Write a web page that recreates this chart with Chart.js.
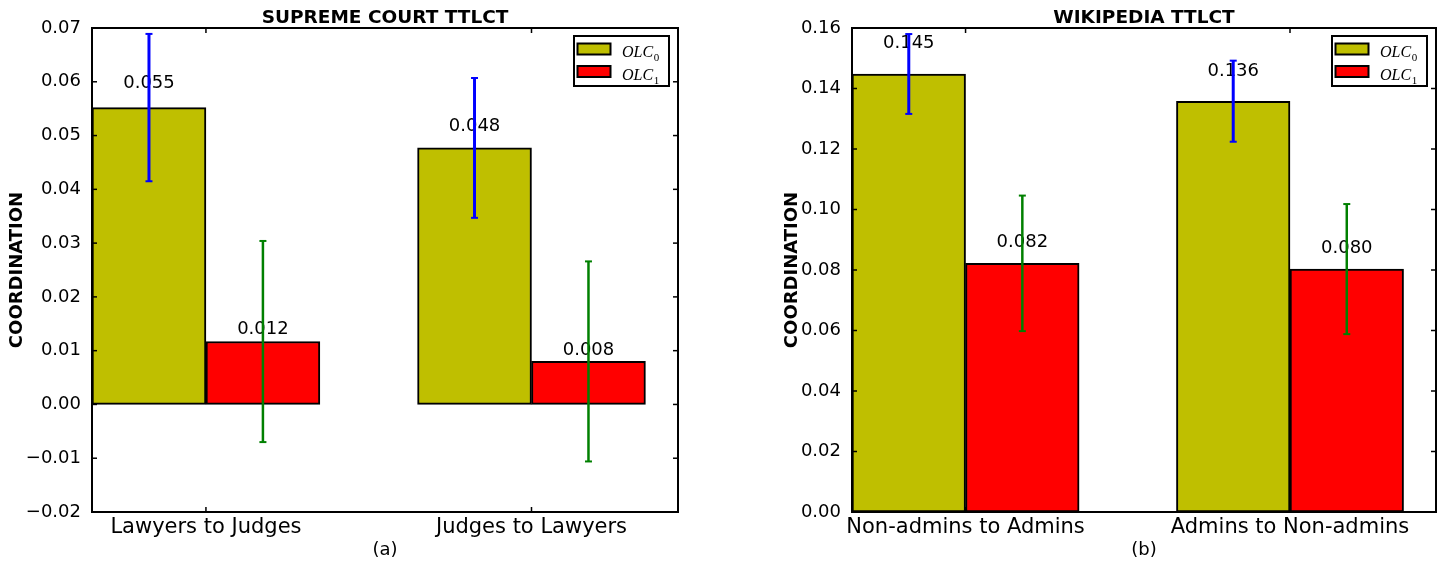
<!DOCTYPE html>
<html><head><meta charset="utf-8">
<script src="https://cdn.jsdelivr.net/npm/chart.js@4"></script>
<style>
html,body{margin:0;padding:0;background:#fff;}
body{width:1443px;height:563px;position:relative;overflow:hidden;}
.c{position:absolute;top:0;height:563px;}
</style></head><body>
<div class="c" style="left:0;width:720px"><canvas id="a"></canvas></div>
<div class="c" style="left:722px;width:721px"><canvas id="b"></canvas></div>
<script>
// ---- data ----
const seriesNames = ['OLC_0', 'OLC_1'];

const courtTitle = 'SUPREME COURT TTLCT';
const courtCategories = ['Lawyers to Judges', 'Judges to Lawyers'];
const courtOLC0 = [0.0552, 0.0477];
const courtOLC0Err = [0.0137, 0.0130];
const courtOLC1 = [0.0117, 0.0080];
const courtOLC1Err = [0.0187, 0.0186];
const courtYTicks = [-0.02, -0.01, 0.00, 0.01, 0.02, 0.03, 0.04, 0.05, 0.06, 0.07];

const wikiTitle = 'WIKIPEDIA TTLCT';
const wikiCategories = ['Non-admins to Admins', 'Admins to Non-admins'];
const wikiOLC0 = [0.1448, 0.1358];
const wikiOLC0Err = [0.0132, 0.0134];
const wikiOLC1 = [0.0822, 0.0803];
const wikiOLC1Err = [0.0224, 0.0215];
const wikiYTicks = [0.00, 0.02, 0.04, 0.06, 0.08, 0.10, 0.12, 0.14, 0.16];

// ---- style / layout ----
const FONT = '"DejaVu Sans", sans-serif';
const BAR_W = 0.35;
const X_MAX = 1.8;
const FILLS = ['#bfbf00', '#ff0000'];
const ERR_COLORS = ['#0000ff', '#008000'];
const ERR_WIDTHS = [3, 2.5];

function line(ctx, x1, y1, x2, y2) { ctx.beginPath(); ctx.moveTo(x1, y1); ctx.lineTo(x2, y2); ctx.stroke(); }

const decor = {
  id: 'decor',
  afterDatasetsDraw(chart) {
    const ctx = chart.ctx, a = chart.chartArea, x = chart.scales.x, y = chart.scales.y;
    ctx.save();
    // value labels
    ctx.font = '18px ' + FONT; ctx.fillStyle = '#000'; ctx.textAlign = 'center'; ctx.textBaseline = 'bottom';
    chart.data.datasets.forEach(ds => {
      ds.data.forEach(p => {
        ctx.fillText(p.y.toFixed(3), x.getPixelForValue(p.x), y.getPixelForValue(p.y * 1.05));
      });
    });
    // error bars
    chart.data.datasets.forEach((ds, s) => {
      ctx.strokeStyle = ERR_COLORS[s];
      ds.data.forEach((p, i) => {
        const px = x.getPixelForValue(p.x);
        const lo = y.getPixelForValue(p.y - ds.err[i]);
        const hi = y.getPixelForValue(p.y + ds.err[i]);
        ctx.lineWidth = ERR_WIDTHS[s];
        line(ctx, px, lo, px, hi);
        ctx.lineWidth = 2;
        line(ctx, px - 3.5, lo, px + 3.5, lo);
        line(ctx, px - 3.5, hi, px + 3.5, hi);
      });
    });
    // frame
    ctx.strokeStyle = '#000'; ctx.lineWidth = 2;
    ctx.strokeRect(a.left, a.top, a.right - a.left, a.bottom - a.top);
    // inward ticks
    ctx.lineWidth = 1.5; const L = 5;
    y.ticks.forEach(t => {
      const py = y.getPixelForValue(t.value);
      line(ctx, a.left, py, a.left + L, py);
      line(ctx, a.right, py, a.right - L, py);
    });
    x.ticks.forEach(t => {
      const px = x.getPixelForValue(t.value);
      line(ctx, px, a.top, px, a.top + L);
      line(ctx, px, a.bottom, px, a.bottom - L);
    });
    // legend
    const bw = 97, bh = 52;
    const bx = a.right - 8 - bw, by = a.top + 7;
    ctx.fillStyle = '#fff'; ctx.fillRect(bx, by, bw, bh);
    ctx.lineWidth = 2; ctx.strokeStyle = '#000';
    ctx.strokeRect(bx + 1, by + 1, bw - 2, bh - 2);
    chart.data.datasets.forEach((ds, s) => {
      const py = by + 8.5 + s * 22.5;
      ctx.fillStyle = FILLS[s];
      ctx.fillRect(bx + 4.5, py, 33, 11);
      ctx.lineWidth = 2; ctx.strokeRect(bx + 4.5, py, 33, 11);
      const parts = ds.label.split('_');
      ctx.fillStyle = '#000'; ctx.textAlign = 'left'; ctx.textBaseline = 'alphabetic';
      ctx.font = 'italic 16px "Liberation Serif", serif';
      const tx = bx + 49, base = py + 13.5;
      ctx.fillText(parts[0], tx, base);
      const w = ctx.measureText(parts[0]).width;
      ctx.font = '11px "Liberation Serif", serif';
      ctx.fillText(parts[1] || '', tx + w + 0.5, base + 4);
    });
    ctx.restore();
  }
};

function makeChart(id, o) {
  const cv = document.getElementById(id);
  const W = cv.parentNode.clientWidth;
  const mk = (vals, errs, s) => ({
    label: seriesNames[s],
    data: vals.map((v, i) => ({ x: i + BAR_W * (s + 0.5), y: v })),
    err: errs,
    backgroundColor: FILLS[s],
    borderColor: '#000',
    borderWidth: 2,
    borderSkipped: false
  });
  return new Chart(cv, {
    type: 'bar',
    data: { datasets: [mk(o.v0, o.e0, 0), mk(o.v1, o.e1, 1)] },
    options: {
      responsive: true, maintainAspectRatio: false, animation: false, devicePixelRatio: 1,
      layout: { padding: { left: 0, top: 0, right: W - o.plotRight, bottom: 0 } },
      datasets: { bar: { grouped: false, categoryPercentage: 1, barPercentage: 1 } },
      scales: {
        x: {
          type: 'linear', min: 0, max: X_MAX, offset: false,
          grid: { display: false }, border: { display: false },
          afterBuildTicks: s => { s.ticks = o.cats.map((c, i) => ({ value: i + BAR_W })); },
          afterFit: s => { s.height = 563 - o.plotBottom; },
          ticks: { autoSkip: false, maxRotation: 0, minRotation: 0, padding: -5, color: '#000',
                   font: { family: FONT, size: 21 }, callback: (v, i) => o.cats[i] },
          title: { display: true, text: o.sub, color: '#000', font: { family: FONT, size: 18 },
                   padding: { top: 0, bottom: 2 } }
        },
        y: {
          type: 'linear', min: o.yTicks[0], max: o.yTicks[o.yTicks.length - 1],
          grid: { display: false }, border: { display: false },
          afterBuildTicks: s => { s.ticks = o.yTicks.map(v => ({ value: v })); },
          afterFit: s => { s.width = o.plotLeft; },
          ticks: { padding: 3, color: '#000', font: { family: FONT, size: 18 },
                   callback: v => (v < 0 ? '\u2212' : '') + Math.abs(v).toFixed(2) },
          title: { display: true, text: 'COORDINATION', color: '#000',
                   font: { family: FONT, size: 18, weight: 'bold' }, padding: { top: o.yTitlePad, bottom: 0 } }
        }
      },
      plugins: {
        legend: { display: false }, tooltip: { enabled: false },
        title: { display: true, text: o.title, fullSize: false, color: '#000',
                 font: { family: FONT, size: 18.5, weight: 'bold', lineHeight: 1 }, padding: { top: 8.75, bottom: 0.75 } }
      }
    },
    plugins: [decor]
  });
}

makeChart('a', { title: courtTitle, sub: '(a)', cats: courtCategories,
  v0: courtOLC0, e0: courtOLC0Err, v1: courtOLC1, e1: courtOLC1Err, yTicks: courtYTicks,
  plotLeft: 92, plotRight: 678, plotBottom: 512, yTitlePad: 7 });
makeChart('b', { title: wikiTitle, sub: '(b)', cats: wikiCategories,
  v0: wikiOLC0, e0: wikiOLC0Err, v1: wikiOLC1, e1: wikiOLC1Err, yTicks: wikiYTicks,
  plotLeft: 130, plotRight: 714, plotBottom: 512, yTitlePad: 59.5 });
</script>
</body></html>
